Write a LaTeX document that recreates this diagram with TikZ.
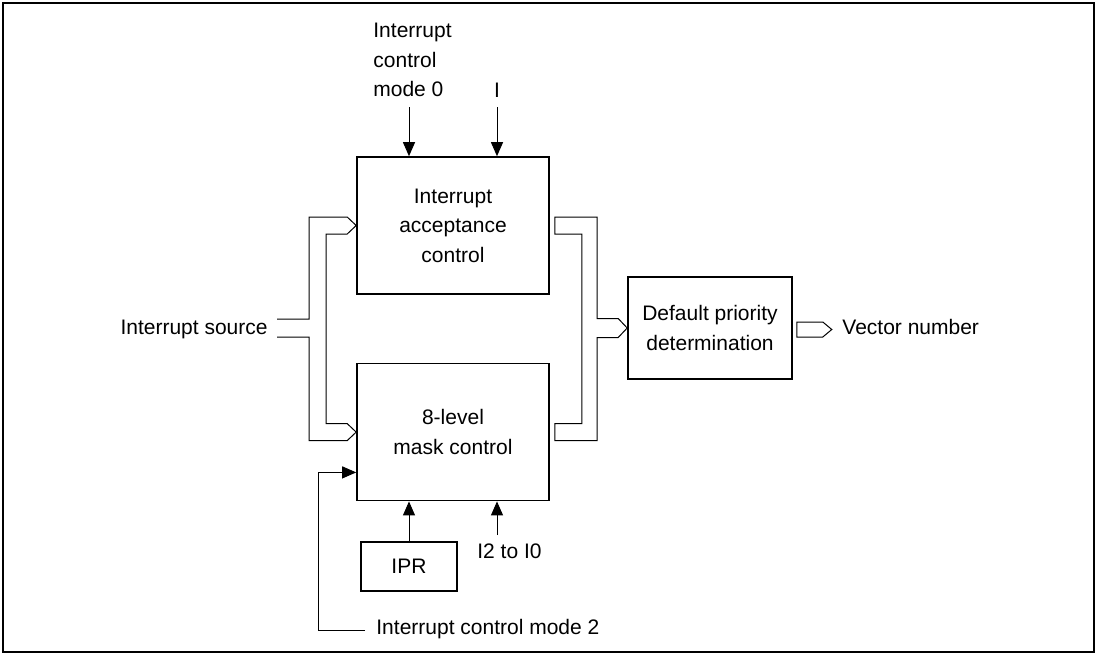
\documentclass[tikz,border=0pt]{standalone}
\usepackage{fontspec}
\setmainfont{Liberation Sans}
\usetikzlibrary{positioning,arrows.meta,calc}

\begin{document}
\begin{tikzpicture}[x=0.5pt, y=-0.5pt,
      bloque/.style={draw, line width=0.8pt, align=center, inner sep=0pt},
      etiqueta/.style={inner sep=0pt, align=left},
      flecha/.style={-{Triangle[length=7pt,width=6pt]}, line width=0.5pt},
      bus/.style={line width=0.5pt, line join=miter},
      every node/.style={font=\fontsize{10.5}{14.75}\selectfont}]
    \useasboundingbox (0,0) rectangle (1099,654);
    \draw[line width=0.7pt] (3,3) rectangle (1094,652);

    \node[bloque, minimum width=96pt, minimum height=68.5pt] (accept) at (453,225.5) {Interrupt\\ acceptance\\ control};
    \node[bloque, minimum width=96pt, minimum height=68.5pt, below=34pt of accept] (mask) {8-level\\ mask control};
    \node[bloque, minimum width=82pt, minimum height=51pt] (prio) at (710,328) {Default priority\\ determination};
    \node[bloque, minimum width=48pt, minimum height=24.5pt] (ipr) at (409,566.5) {IPR};

    \node[etiqueta, anchor=north west] (mode0) at (373,23) {Interrupt\\ control\\ mode 0};
    \node[etiqueta, anchor=base] (ibit) at (497,97) {I};
    \node[etiqueta, anchor=base east] (src) at (268,334) {Interrupt source};
    \node[etiqueta, anchor=base west] (vec) at (842,334) {Vector number};
    \node[etiqueta, anchor=base west] (nivel) at (477,558) {I2 to I0};
    \node[etiqueta, anchor=base west] (mode2) at (376,634) {Interrupt control mode 2};

    \coordinate (m0in) at (409,107);
    \coordinate (iin) at (497,107);
    \coordinate (nivelin) at (497,535);
    \coordinate (m2in) at (365,630);
    \coordinate (srcin) at (277,328);

    \draw[flecha] (m0in) -- (m0in |- accept.north);
    \draw[flecha] (iin) -- (iin |- accept.north);
    \draw[flecha] (ipr.north) -- (ipr.north |- mask.south);
    \draw[flecha] (nivelin) -- (nivelin |- mask.south);
    \draw[flecha] (m2in) -- ++(-47,0) |- ($(mask.south west)+(0,-29)$);

    \draw[bus] ($(srcin)+(0,-9)$) -- ++(32,0) |- ($(accept.west)+(-9,-8.5)$) -- (accept.west)
      -- ++(-9,8.5) -| ($(mask.west)+(-30,-8.5)$) -- ++(21,0) -- (mask.west)
      -- ++(-9,8.5) -| ($(srcin)+(32,9)$) -- ++(-32,0);
    \draw[bus] ($(accept.east)+(5,-8.5)$) -| ($(prio.west)+(-30,-9.5)$) -- ++(21,0) -- (prio.west)
      -- ++(-9,9.5) -- ++(-21,0) |- ($(mask.east)+(5,8.5)$) -- ++(0,-17)
      -| ($(accept.east)+(32,8.5)$) -- ++(-27,0) -- cycle;
    \draw[bus] ($(prio.east)+(4,-6)$) -- ++(26,0) -- ++(9,7.5) -- ++(-9,7.5) -- ++(-26,0) -- cycle;
  \end{tikzpicture}
\end{document}
